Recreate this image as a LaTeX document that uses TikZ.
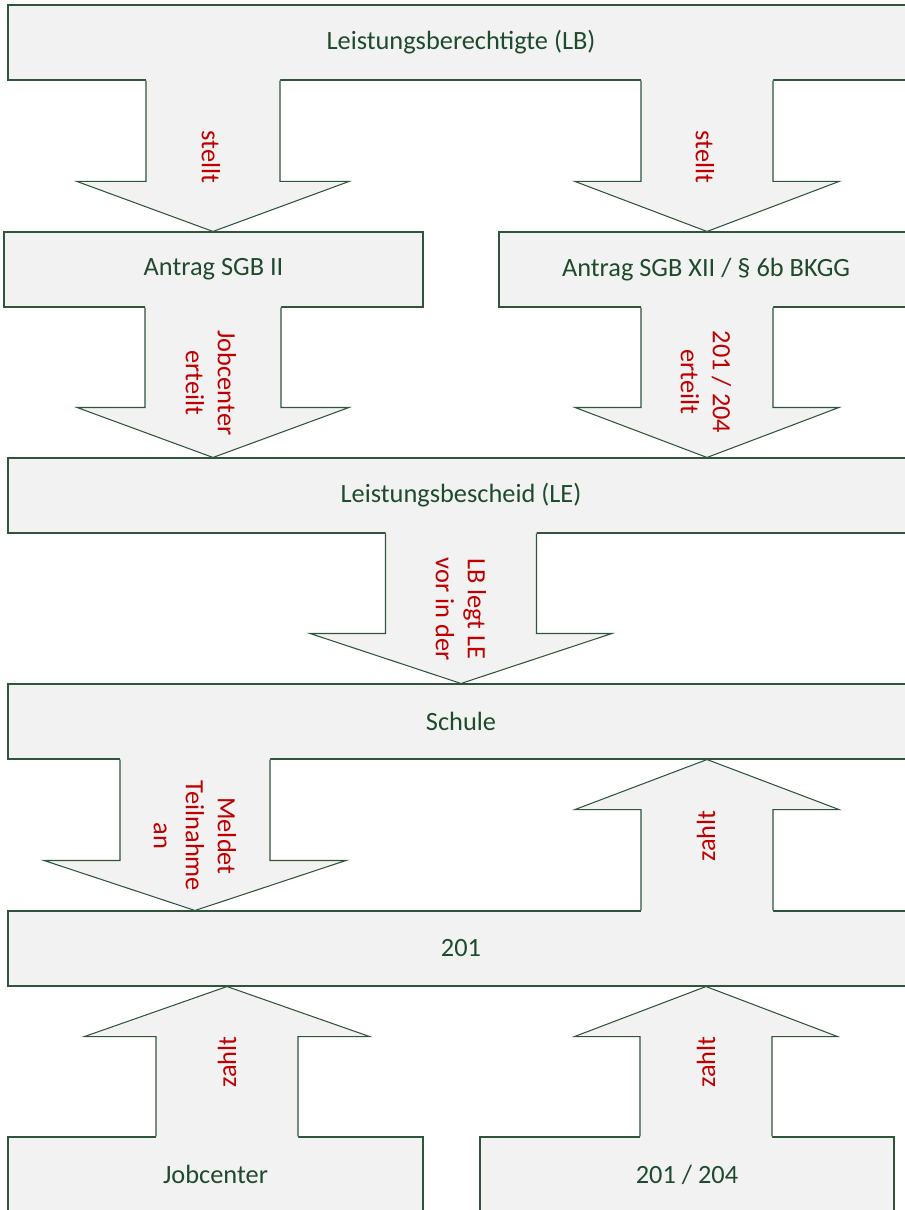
\documentclass[tikz,border=0pt]{standalone}
\usepackage{fontspec}
\setmainfont{Carlito}
\usepackage{tikz}
\usetikzlibrary{calc}

\definecolor{kastengrau}{HTML}{F2F2F2}
\definecolor{rahmengruen}{RGB}{47,85,58}
\definecolor{textgruen}{RGB}{30,75,45}
\definecolor{textrot}{RGB}{192,0,0}

\tikzset{
	kasten/.style={rectangle, draw=rahmengruen, fill=kastengrau, line width=0.6pt, minimum height=15mm, inner sep=0pt, text=textgruen, font=\fontsize{15pt}{18.2pt}\selectfont},
	breit/.style={kasten, minimum width=181.2mm},
	halb/.style={kasten, minimum width=#1},
	beschriftung/.style={text=textrot, rotate=-90, align=center, inner sep=0pt, font=\fontsize{15pt}{18.2pt}\selectfont},
	beschriftunghoch/.style={beschriftung, rotate=180},
	pfeilfuellung/.style={fill=kastengrau},
	pfeilrand/.style={draw=rahmengruen, line width=0.6pt, line join=miter}
}

% #1 von, #2 nach, #3 x-Position, #4 halbe Schaftbreite, #5 halbe Spitzenbreite
\newcommand{\blockpfeil}[5]{
	\coordinate (fuss) at (#3,0 |- #1);
	\coordinate (spitze) at (#3,0 |- #2);
	\coordinate (kopf) at ($(spitze)!10mm!(fuss)$);
	\coordinate (ueber) at ($(fuss)!-0.5mm!(spitze)$);
	\fill[pfeilfuellung] ($(ueber)+(-#4,0)$) -- ($(kopf)+(-#4,0)$) -- ($(kopf)+(-#5,0)$) -- (spitze) -- ($(kopf)+(#5,0)$) -- ($(kopf)+(#4,0)$) -- ($(ueber)+(#4,0)$) -- cycle;
	\draw[pfeilrand] ($(fuss)+(-#4,0)$) -- ($(kopf)+(-#4,0)$) -- ($(kopf)+(-#5,0)$) -- (spitze) -- ($(kopf)+(#5,0)$) -- ($(kopf)+(#4,0)$) -- ($(fuss)+(#4,0)$);
}

\begin{document}
\begin{tikzpicture}[x=0.2mm, y=-0.2mm]
	\useasboundingbox (0,0) rectangle (905,1210);
	\clip (0,0) rectangle (905,1210);

	% Kaesten
	\node[breit] at (461,42.5) (lb) {Leistungsberechtigte (LB)};
	\node[halb=83.8mm] at (213.5,269.5) (sgb2) {Antrag SGB II};
	\node[halb=82.8mm] at (706,269.5) (sgb12) {Antrag SGB XII / \S\ 6b BKGG};
	\node[breit] at (461,495.5) (le) {Leistungsbescheid (LE)};
	\node[breit] at (461,721.5) (schule) {Schule};
	\node[breit] at (461,948.5) (b201) {201};
	\node[halb=83mm] at (215.5,1174.5) (jc) {Jobcenter};
	\node[halb=82.8mm] at (687,1174.5) (b204) {201 / 204};

	% Pfeile
	\blockpfeil{lb.south}{sgb2.north}{213}{67}{136}
	\blockpfeil{lb.south}{sgb12.north}{707}{66}{132}
	\blockpfeil{sgb2.south}{le.north}{213}{68}{136}
	\blockpfeil{sgb12.south}{le.north}{707}{66}{132}
	\blockpfeil{le.south}{schule.north}{461}{75.5}{151}
	\blockpfeil{schule.south}{b201.north}{195}{75}{151}
	\blockpfeil{b201.north}{schule.south}{707}{66}{132}
	\blockpfeil{jc.north}{b201.south}{227}{71}{142.5}
	\blockpfeil{b204.north}{b201.south}{706}{66}{131.5}

	% Beschriftungen
	\node[beschriftung] at (211,157) (l1) {stellt};
	\node[beschriftung] at (705,157) (l2) {stellt};
	\node[beschriftung] at (211,383) (l3) {Jobcenter\\erteilt};
	\node[beschriftung] at (706,382) (l4) {201 / 204\\erteilt};
	\node[beschriftung] at (461,609) (l5) {LB legt LE\\vor in der};
	\node[beschriftung] at (195,836) (l6) {Meldet\\Teilnahme\\an};
	\node[beschriftunghoch] at (706,836) (l7) {zahlt};
	\node[beschriftunghoch] at (227,1062) (l8) {zahlt};
	\node[beschriftunghoch] at (706,1062) (l9) {zahlt};
\end{tikzpicture}
\end{document}
